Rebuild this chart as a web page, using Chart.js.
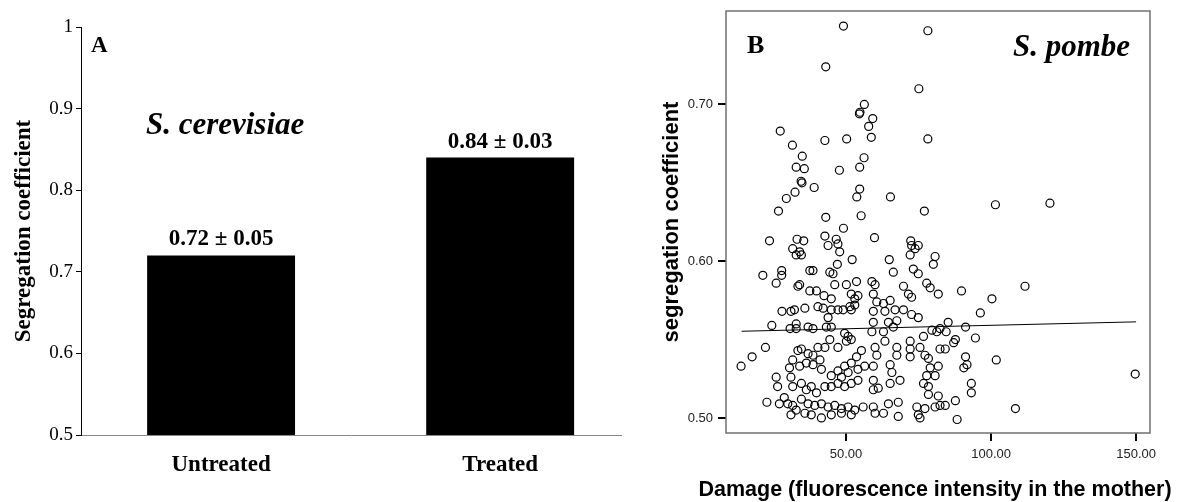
<!DOCTYPE html>
<html>
<head>
<meta charset="utf-8">
<script src="https://cdn.jsdelivr.net/npm/chart.js@4.4.1/dist/chart.umd.min.js"></script>
<style>
  html, body { margin: 0; padding: 0; background: #fff; }
  #wrap { position: relative; width: 1184px; height: 502px; }
  .panel { position: absolute; top: 0; height: 502px; }
  #panelA { left: 0; width: 640px; }
  #panelB { left: 640px; width: 544px; }
</style>
</head>
<body>
<div id="wrap">
  <div class="panel" id="panelA"><canvas id="chartA"></canvas></div>
  <div class="panel" id="panelB"><canvas id="chartB"></canvas></div>
</div>
<script>
const SERIF = "'Liberation Serif', 'Times New Roman', serif";
const SANS = "'Liberation Sans', Arial, sans-serif";

// panel A: S. cerevisiae
const categories = ["Untreated", "Treated"];
const meanSeg = [0.72, 0.84];
const sdSeg = [0.05, 0.03];
const yTicksA = [0.5, 0.6, 0.7, 0.8, 0.9, 1];

// panel B: S. pombe, one cell per entry
const damage = [
  27.3, 31.5, 34.9, 32.8, 35.6, 34.5, 34.8, 39.0, 32.4, 29.4,
  26.7, 23.6, 33.1, 35.4, 42.7, 49.1, 43.0, 56.3, 54.8, 54.6,
  59.2, 57.8, 58.7, 50.2, 56.2, 54.7, 47.7, 54.7, 53.7, 65.3,
  43.0, 55.2, 49.1, 42.7, 46.6, 59.8, 72.3, 78.2, 75.1, 78.2,
  77.0, 101.5, 120.3,
  31.6, 32.8, 34.0, 21.3, 27.8, 27.8, 25.9, 33.4, 27.9, 31.0,
  32.2, 24.4, 30.7, 32.8, 32.8, 22.2, 17.6, 13.8, 33.4, 31.6,
  30.5, 25.9, 26.4, 31.0, 31.6, 22.7, 27.0, 28.7, 29.9, 31.6,
  31.0, 32.8,
  34.6, 43.8, 47.2, 47.8, 37.5, 38.6, 44.4, 45.5, 47.0, 52.1,
  34.0, 37.5, 39.8, 42.4, 44.9, 46.1, 50.1, 53.6, 51.8, 53.0,
  54.1, 35.8, 40.3, 42.1, 44.9, 47.2, 49.0, 51.3, 51.8, 53.0,
  43.8, 36.9, 38.6, 43.2, 44.9, 49.5, 50.7, 51.8, 50.1, 34.6,
  36.9, 38.6, 40.3, 42.7, 44.4, 47.2, 55.3, 53.6, 51.8, 34.0,
  36.3, 38.6, 41.5, 41.0, 44.9, 47.2, 48.4, 50.7, 49.5, 54.1,
  56.4, 34.6, 36.3, 38.0, 39.8, 42.7, 44.9, 47.2, 49.5, 51.8,
  54.1, 34.6, 36.9, 39.2, 41.5, 43.8, 46.1, 48.4, 50.7, 53.0,
  55.9, 35.8, 38.0, 41.5, 44.9, 48.4, 51.8,
  72.6, 73.8, 72.1, 74.9, 64.9, 66.3, 80.7, 80.1, 73.2, 74.9,
  58.9, 60.0, 69.8, 71.5, 72.6, 77.8, 79.0, 81.8, 59.4, 60.6,
  62.9, 65.2, 59.4, 63.4, 66.9, 69.8, 72.6, 74.9, 67.5, 59.4,
  64.6, 66.3, 62.9, 58.9, 76.7, 79.6, 82.4, 81.3, 60.0, 60.6,
  63.4, 67.5, 72.1, 72.1, 75.5, 67.5, 72.1, 77.2, 78.4, 82.4,
  59.4, 65.2, 65.8, 79.0, 81.8, 77.8, 80.7, 59.4, 65.2, 68.6,
  76.7, 78.4, 59.4, 61.1, 78.4, 81.8, 64.6, 68.0, 59.4, 62.9,
  60.0, 74.4, 77.2, 80.7, 68.0, 74.9, 75.5, 82.4,
  89.8, 100.3, 96.3, 85.2, 84.5, 91.2, 94.6, 87.7, 87.1, 84.2,
  91.2, 91.7, 90.6, 101.8, 93.2, 93.2, 87.7, 84.2, 88.3, 108.4,
  111.7, 149.7
];
const segCoef = [
  0.683, 0.674, 0.667, 0.660, 0.659, 0.651, 0.650, 0.647, 0.644, 0.640,
  0.632, 0.613, 0.614, 0.613, 0.677, 0.750, 0.724, 0.700, 0.695, 0.694,
  0.691, 0.686, 0.679, 0.678, 0.666, 0.660, 0.658, 0.646, 0.641, 0.641,
  0.628, 0.629, 0.621, 0.616, 0.614, 0.615, 0.613, 0.747, 0.710, 0.678,
  0.632, 0.636, 0.637,
  0.608, 0.604, 0.606, 0.591, 0.594, 0.591, 0.586, 0.584, 0.568, 0.568,
  0.569, 0.559, 0.557, 0.560, 0.557, 0.545, 0.539, 0.533, 0.543, 0.537,
  0.532, 0.526, 0.520, 0.526, 0.520, 0.510, 0.509, 0.513, 0.509, 0.508,
  0.502, 0.505,
  0.604, 0.610, 0.611, 0.606, 0.594, 0.594, 0.593, 0.592, 0.598, 0.601,
  0.585, 0.581, 0.581, 0.578, 0.576, 0.585, 0.585, 0.587, 0.579, 0.576,
  0.578, 0.570, 0.571, 0.570, 0.569, 0.569, 0.569, 0.571, 0.569, 0.572,
  0.564, 0.558, 0.557, 0.558, 0.558, 0.554, 0.552, 0.550, 0.549, 0.544,
  0.541, 0.540, 0.545, 0.545, 0.550, 0.545, 0.543, 0.539, 0.535, 0.533,
  0.535, 0.534, 0.531, 0.537, 0.527, 0.530, 0.526, 0.529, 0.533, 0.531,
  0.533, 0.522, 0.518, 0.520, 0.516, 0.520, 0.520, 0.522, 0.520, 0.522,
  0.524, 0.512, 0.509, 0.508, 0.509, 0.507, 0.508, 0.506, 0.507, 0.505,
  0.507, 0.503, 0.502, 0.500, 0.502, 0.503, 0.502,
  0.610, 0.608, 0.604, 0.610, 0.601, 0.593, 0.603, 0.598, 0.595, 0.592,
  0.587, 0.585, 0.584, 0.579, 0.577, 0.586, 0.583, 0.579, 0.579, 0.574,
  0.573, 0.575, 0.568, 0.568, 0.569, 0.569, 0.566, 0.564, 0.562, 0.561,
  0.561, 0.558, 0.555, 0.555, 0.552, 0.556, 0.557, 0.555, 0.545, 0.540,
  0.549, 0.545, 0.549, 0.544, 0.545, 0.540, 0.539, 0.540, 0.538, 0.544,
  0.533, 0.534, 0.529, 0.532, 0.533, 0.527, 0.527, 0.524, 0.522, 0.524,
  0.522, 0.520, 0.518, 0.519, 0.515, 0.514, 0.509, 0.510, 0.507, 0.503,
  0.503, 0.507, 0.506, 0.507, 0.501, 0.502, 0.500, 0.508,
  0.581, 0.576, 0.567, 0.561, 0.555, 0.558, 0.551, 0.550, 0.548, 0.544,
  0.539, 0.534, 0.532, 0.537, 0.522, 0.516, 0.511, 0.508, 0.499, 0.506,
  0.584, 0.528
];
// regression line end points
const fitDamage = [14, 150];
const fitSeg = [0.5553, 0.5613];
const xTicksB = [50, 100, 150];
const yTicksB = [0.5, 0.6, 0.7];
const xTitleB = "Damage (fluorescence intensity in the mother)";

function noEdgePadding(s) {
  s.paddingTop = 0; s.paddingBottom = 0; s.paddingLeft = 0; s.paddingRight = 0;
}

// ---------- panel A ----------
const labelsA = {
  id: "labelsA",
  afterDatasetsDraw(chart) {
    const { ctx, chartArea } = chart;
    const bars = chart.getDatasetMeta(0).data;
    ctx.save();
    ctx.fillStyle = "#000";
    ctx.textAlign = "center";
    ctx.textBaseline = "alphabetic";
    ctx.font = `bold 23px ${SERIF}`;
    bars.forEach((bar, i) => {
      ctx.fillText(`${meanSeg[i].toFixed(2)} ± ${sdSeg[i].toFixed(2)}`, bar.x, bar.y - 10);
    });
    ctx.font = `italic bold 31px ${SERIF}`;
    ctx.fillText("S. cerevisiae", bars[0].x + 4, chartArea.top + 107);
    ctx.textAlign = "left";
    ctx.font = `bold 23px ${SERIF}`;
    ctx.fillText("A", chartArea.left + 10, chartArea.top + 25);
    ctx.restore();
  }
};

new Chart(document.getElementById("chartA"), {
  type: "bar",
  data: {
    datasets: [{
      data: meanSeg.map((v, i) => ({ x: i + 1, y: v })),
      backgroundColor: "#000",
      borderWidth: 0,
      barPercentage: 0.53,
      categoryPercentage: 1
    }]
  },
  options: {
    responsive: true,
    maintainAspectRatio: false,
    animation: false,
    devicePixelRatio: 1,
    layout: { padding: { top: 27, right: 19, bottom: 0, left: 0 } },
    plugins: { legend: { display: false }, tooltip: { enabled: false } },
    scales: {
      x: {
        type: "linear",
        offset: false,
        min: 0.498,
        max: 2.433,
        afterBuildTicks: s => { s.ticks = categories.map((c, i) => ({ value: i + 1 })); },
        afterFit: s => { s.height = 67; noEdgePadding(s); },
        grid: { display: false, drawTicks: false },
        border: { display: true, color: "#888", width: 1 },
        ticks: {
          padding: 16,
          color: "#000",
          maxRotation: 0,
          autoSkip: false,
          font: { family: SERIF, size: 23, weight: "bold" },
          callback: v => categories[v - 1] ?? ""
        }
      },
      y: {
        min: 0.5,
        max: 1,
        afterBuildTicks: s => { s.ticks = yTicksA.map(v => ({ value: v })); },
        afterFit: s => { s.width = 81; noEdgePadding(s); },
        grid: { drawOnChartArea: false, drawTicks: true, tickLength: 5, color: "#000" },
        border: { display: true, color: "#000", width: 1 },
        ticks: {
          padding: 3,
          color: "#000",
          font: { family: SERIF, size: 19 },
          callback: v => (v === 1 ? "1" : v.toFixed(1))
        },
        title: {
          display: true,
          text: "Segregation coefficient",
          color: "#000",
          padding: { top: 10, bottom: 0 },
          font: { family: SERIF, size: 23, weight: "bold" }
        }
      }
    }
  },
  plugins: [labelsA]
});

// ---------- panel B ----------
const frameB = {
  id: "frameB",
  beforeDatasetsDraw(chart) {
    const { ctx, chartArea: a } = chart;
    ctx.save();
    ctx.strokeStyle = "#707070";
    ctx.lineWidth = 1.5;
    ctx.strokeRect(a.left, a.top, a.width, a.height);
    ctx.restore();
  },
  afterDatasetsDraw(chart) {
    const { ctx, chartArea: a } = chart;
    ctx.save();
    ctx.fillStyle = "#000";
    ctx.textBaseline = "alphabetic";
    ctx.textAlign = "left";
    ctx.font = `bold 26px ${SERIF}`;
    ctx.fillText("B", a.left + 21, a.top + 42);
    ctx.textAlign = "right";
    ctx.font = `italic bold 31px ${SERIF}`;
    ctx.fillText("S. pombe", a.right - 20, a.top + 45);
    // axis title wider than the plot box, so drawn here without maxWidth
    ctx.textAlign = "center";
    ctx.textBaseline = "middle";
    ctx.font = `bold 21.5px ${SANS}`;
    ctx.fillText(xTitleB, (a.left + a.right) / 2 - 3, chart.height - 12);
    ctx.restore();
  }
};

new Chart(document.getElementById("chartB"), {
  type: "scatter",
  data: {
    datasets: [
      {
        type: "line",
        data: fitDamage.map((x, i) => ({ x, y: fitSeg[i] })),
        borderColor: "#000",
        borderWidth: 1,
        pointRadius: 0,
        fill: false
      },
      {
        data: damage.map((x, i) => ({ x, y: segCoef[i] })),
        pointStyle: "circle",
        pointRadius: 4,
        borderColor: "#000",
        borderWidth: 1.2,
        backgroundColor: "rgba(0,0,0,0)"
      }
    ]
  },
  options: {
    responsive: true,
    maintainAspectRatio: false,
    animation: false,
    devicePixelRatio: 1,
    layout: { padding: { top: 11, right: 34, bottom: 0, left: 0 } },
    plugins: { legend: { display: false }, tooltip: { enabled: false } },
    scales: {
      x: {
        type: "linear",
        min: 8.6,
        max: 154.8,
        afterBuildTicks: s => { s.ticks = xTicksB.map(v => ({ value: v })); },
        afterFit: s => { s.height = 69; noEdgePadding(s); },
        grid: { drawOnChartArea: false, drawTicks: true, tickLength: 8, color: "#000", lineWidth: 2 },
        border: { display: false },
        ticks: {
          padding: 6,
          color: "#222",
          maxRotation: 0,
          font: { family: SANS, size: 13 },
          callback: v => v.toFixed(2)
        }
      },
      y: {
        min: 0.4904,
        max: 0.7596,
        afterBuildTicks: s => { s.ticks = yTicksB.map(v => ({ value: v })); },
        afterFit: s => { s.width = 86; noEdgePadding(s); },
        grid: { drawOnChartArea: false, drawTicks: true, tickLength: 8, color: "#000", lineWidth: 2 },
        border: { display: false },
        ticks: {
          padding: 5,
          color: "#222",
          font: { family: SANS, size: 13 },
          callback: v => v.toFixed(2)
        },
        title: {
          display: true,
          text: "segregation coefficient",
          color: "#000",
          padding: { top: 19, bottom: 0 },
          font: { family: SANS, size: 22, weight: "bold" }
        }
      }
    }
  },
  plugins: [frameB]
});
</script>
</body>
</html>
